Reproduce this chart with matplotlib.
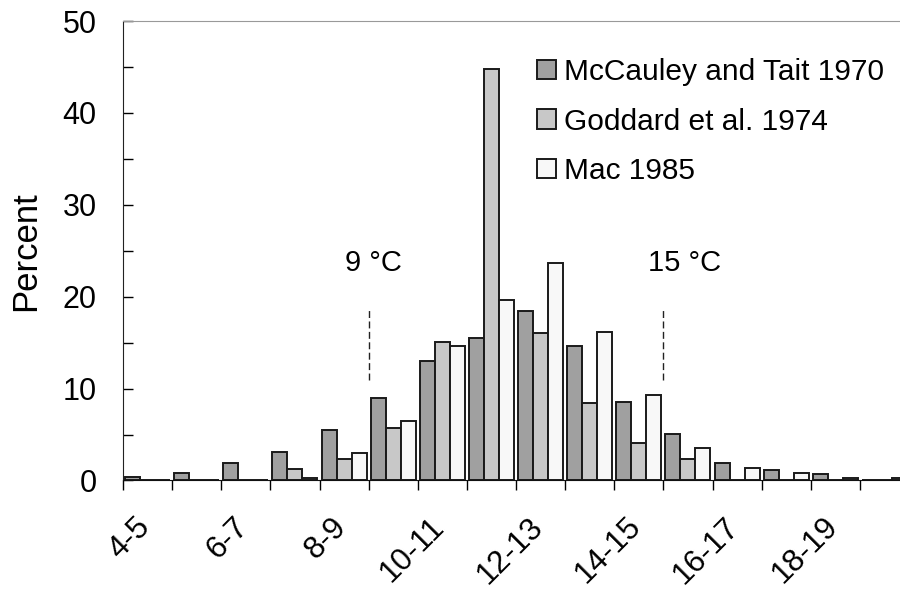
import matplotlib
matplotlib.use("Agg")
import matplotlib.pyplot as plt
import numpy as np

plt.rcParams['font.family'] = ['Liberation Sans', 'DejaVu Sans']

# temperature classes (degC) and percent of observations per study
classes = ['4-5', '5-6', '6-7', '7-8', '8-9', '9-10', '10-11', '11-12',
           '12-13', '13-14', '14-15', '15-16', '16-17', '17-18', '18-19', '19-20']
mccauley = [0.4, 0.8, 1.9, 3.1, 5.5, 9.0, 13.0, 15.5, 18.4, 14.6, 8.5, 5.1, 1.9, 1.1, 0.7, 0.0]
goddard = [0.0, 0.0, 0.0, 1.2, 2.3, 5.7, 15.1, 44.8, 16.0, 8.4, 4.1, 2.3, 0.0, 0.0, 0.0, 0.0]
mac = [0.0, 0.0, 0.0, 0.3, 3.0, 6.5, 14.6, 19.6, 23.7, 16.2, 9.3, 3.5, 1.4, 0.8, 0.3, 0.3]
series_labels = ['McCauley and Tait 1970', 'Goddard et al. 1974', 'Mac 1985']
series_colors = ['#a0a0a0', '#c8c8c8', '#f8f8f8']

# preferred range markers
marker_temps = [9, 15]
marker_labels = ['9 °C', '15 °C']

fig = plt.figure(figsize=(9, 5.9), dpi=100)
ax = fig.add_axes([0.1367, 0.1856, 0.8733, 0.7788])

x = np.arange(len(classes))
w = 0.305
for i, (vals, lab, col) in enumerate(zip([mccauley, goddard, mac], series_labels, series_colors)):
    ax.bar(x + 0.5 + (i - 1) * w, vals, width=w, color=col, edgecolor='#1a1a1a',
           linewidth=1.4, label=lab, zorder=2)

ax.set_xlim(0, len(classes))
ax.set_ylim(0, 50)

# dashed markers at the class boundaries for 9 and 15 degC
for t, lab, tx in zip(marker_temps, marker_labels, [5.09, 11.44]):
    xb = t - 4
    ax.plot([xb, xb], [10.9, 18.7], color='#222222', lw=1.0, dashes=(5, 2.5), zorder=3)
    ax.text(tx, 23.7, lab, ha='center', va='center', fontsize=21)

# y axis: inward ticks every 5, labels every 10
ax.set_yticks(np.arange(0, 51, 10))
ax.set_yticks(np.arange(5, 50, 10), minor=True)
ax.tick_params(axis='y', which='both', direction='in', length=7, width=1,
               labelsize=22, pad=19)
ax.set_ylabel('Percent', fontsize=25, labelpad=15)

# x axis: ticks at class boundaries, labels on every other class
# (label anchors sit a bit left of the class centre, as rotated text ends there)
ax.set_xticks(np.arange(0, len(classes) + 1))
ax.set_xticklabels([])
ax.set_xticks(x[::2] + 0.5 - 0.26, minor=True)
ax.set_xticklabels(classes[::2], minor=True, rotation=45, ha='right', va='top',
                   rotation_mode='anchor', fontsize=22.5)
ax.tick_params(axis='x', which='major', direction='out', length=7, width=1)
ax.tick_params(axis='x', which='minor', length=0, pad=22.5)

ax.spines['right'].set_visible(False)
ax.spines['top'].set_color('#999999')
ax.spines['left'].set_color('#222222')
ax.spines['bottom'].set_color('#111111')

ax.legend(loc='upper left', bbox_to_anchor=(537 / 900, 1 - 58 / 590),
          bbox_transform=fig.transFigure, frameon=False, fontsize=21.5,
          handlelength=0.64, handleheight=0.64, handletextpad=0.25,
          labelspacing=0.72, borderpad=0, borderaxespad=0)

fig.savefig('out.png', dpi=100)
